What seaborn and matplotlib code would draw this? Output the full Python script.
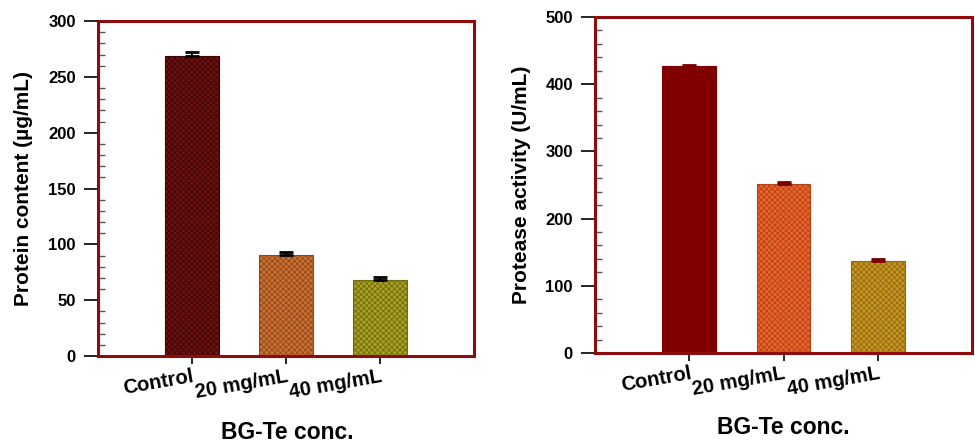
import matplotlib
matplotlib.use("Agg")
import matplotlib.pyplot as plt
import seaborn as sns
import pandas as pd
from matplotlib.ticker import MultipleLocator

sns.set_style("ticks")
plt.rcParams['font.family'] = ['Liberation Sans', 'DejaVu Sans']
plt.rcParams['font.weight'] = 'bold'
plt.rcParams['hatch.linewidth'] = 0.6
for k in ['text.color', 'axes.labelcolor', 'xtick.color', 'ytick.color']:
    plt.rcParams[k] = 'black'

categories = ["Control", "20 mg/mL", "40 mg/mL"]
protein = [269, 90.5, 68.5]
protein_err = [3.0, 2.8, 1.8]
protease = [427, 252, 137]
protease_err = [2.0, 2.5, 2.4]

left_colors = ["#6E1010", "#CF6F2E", "#A8A21E"]
left_hatch = ["#3A0606", "#8A4A20", "#6E6A14"]
right_colors = ["#800000", "#EC642A", "#C8961E"]
right_hatch = ["#800000", "#B04418", "#8E6A14"]

spine_color = "#8E0C0C"

fig = plt.figure(figsize=(9.75, 4.44), dpi=100)
ax1 = fig.add_axes([98/975, 88/444, 376/975, 335/444])
ax2 = fig.add_axes([595/975, 91/444, 377/975, 336/444])


def draw(ax, values, errs, colors, hatchc, ylabel, ymax, major, minor,
         err_color, hatches, xl_coords, yl_coords):
    df = pd.DataFrame({"cat": categories, "val": values})
    sns.barplot(data=df, x="cat", y="val", hue="cat", palette=colors,
                saturation=1, legend=False, width=0.57, ax=ax, errorbar=None)
    for p, hc, h in zip(ax.patches, hatchc, hatches):
        if h:
            p.set_hatch(h)
        p.set_edgecolor(hc)
        p.set_linewidth(0.8)
    ax.errorbar(range(len(categories)), values, yerr=[[0]*len(errs), errs],
                fmt="none", ecolor=err_color, elinewidth=1.5, capsize=5,
                capthick=2.0, zorder=3)
    ax.set_xlim(-1, 3)
    ax.set_ylim(0, ymax)
    ax.yaxis.set_major_locator(MultipleLocator(major))
    ax.yaxis.set_minor_locator(MultipleLocator(minor))
    ax.tick_params(axis="y", which="major", direction="out", length=10,
                   width=1.2, color="black", labelsize=12, pad=6)
    ax.tick_params(axis="y", which="minor", direction="in", length=5,
                   width=1.0, color="#555555")
    ax.tick_params(axis="x", which="major", direction="out", length=6,
                   width=1.2, color="black", labelsize=14.5, pad=2)
    ax.set_xticks(range(len(categories)))
    ax.set_xticklabels(categories, rotation=10, ha="right",
                       rotation_mode="anchor", fontweight="bold")
    for lab in ax.get_yticklabels():
        lab.set_fontweight("bold")
    for s in ax.spines.values():
        s.set_visible(True)
        s.set_color(spine_color)
        s.set_linewidth(2.2)
    ax.set_ylabel(ylabel, fontsize=15, fontweight="bold", va="center")
    ax.yaxis.set_label_coords(*yl_coords)
    ax.set_xlabel("BG-Te conc.", fontsize=16.5, fontweight="bold", va="center")
    ax.xaxis.set_label_coords(*xl_coords)


draw(ax1, protein, protein_err, left_colors, left_hatch,
     "Protein content (µg/mL)", 300, 50, 10, "black",
     ["xxxxxx", "xxxxxx", "xxxxxx"], (0.503, -0.227), (-0.197, 0.5))
draw(ax2, protease, protease_err, right_colors, right_hatch,
     "Protease activity (U/mL)", 500, 100, 20, "#7A0000",
     [None, "xxxxxx", "xxxxxx"], (0.499, -0.223), (-0.194, 0.5))

fig.savefig("out.png", dpi=100)
